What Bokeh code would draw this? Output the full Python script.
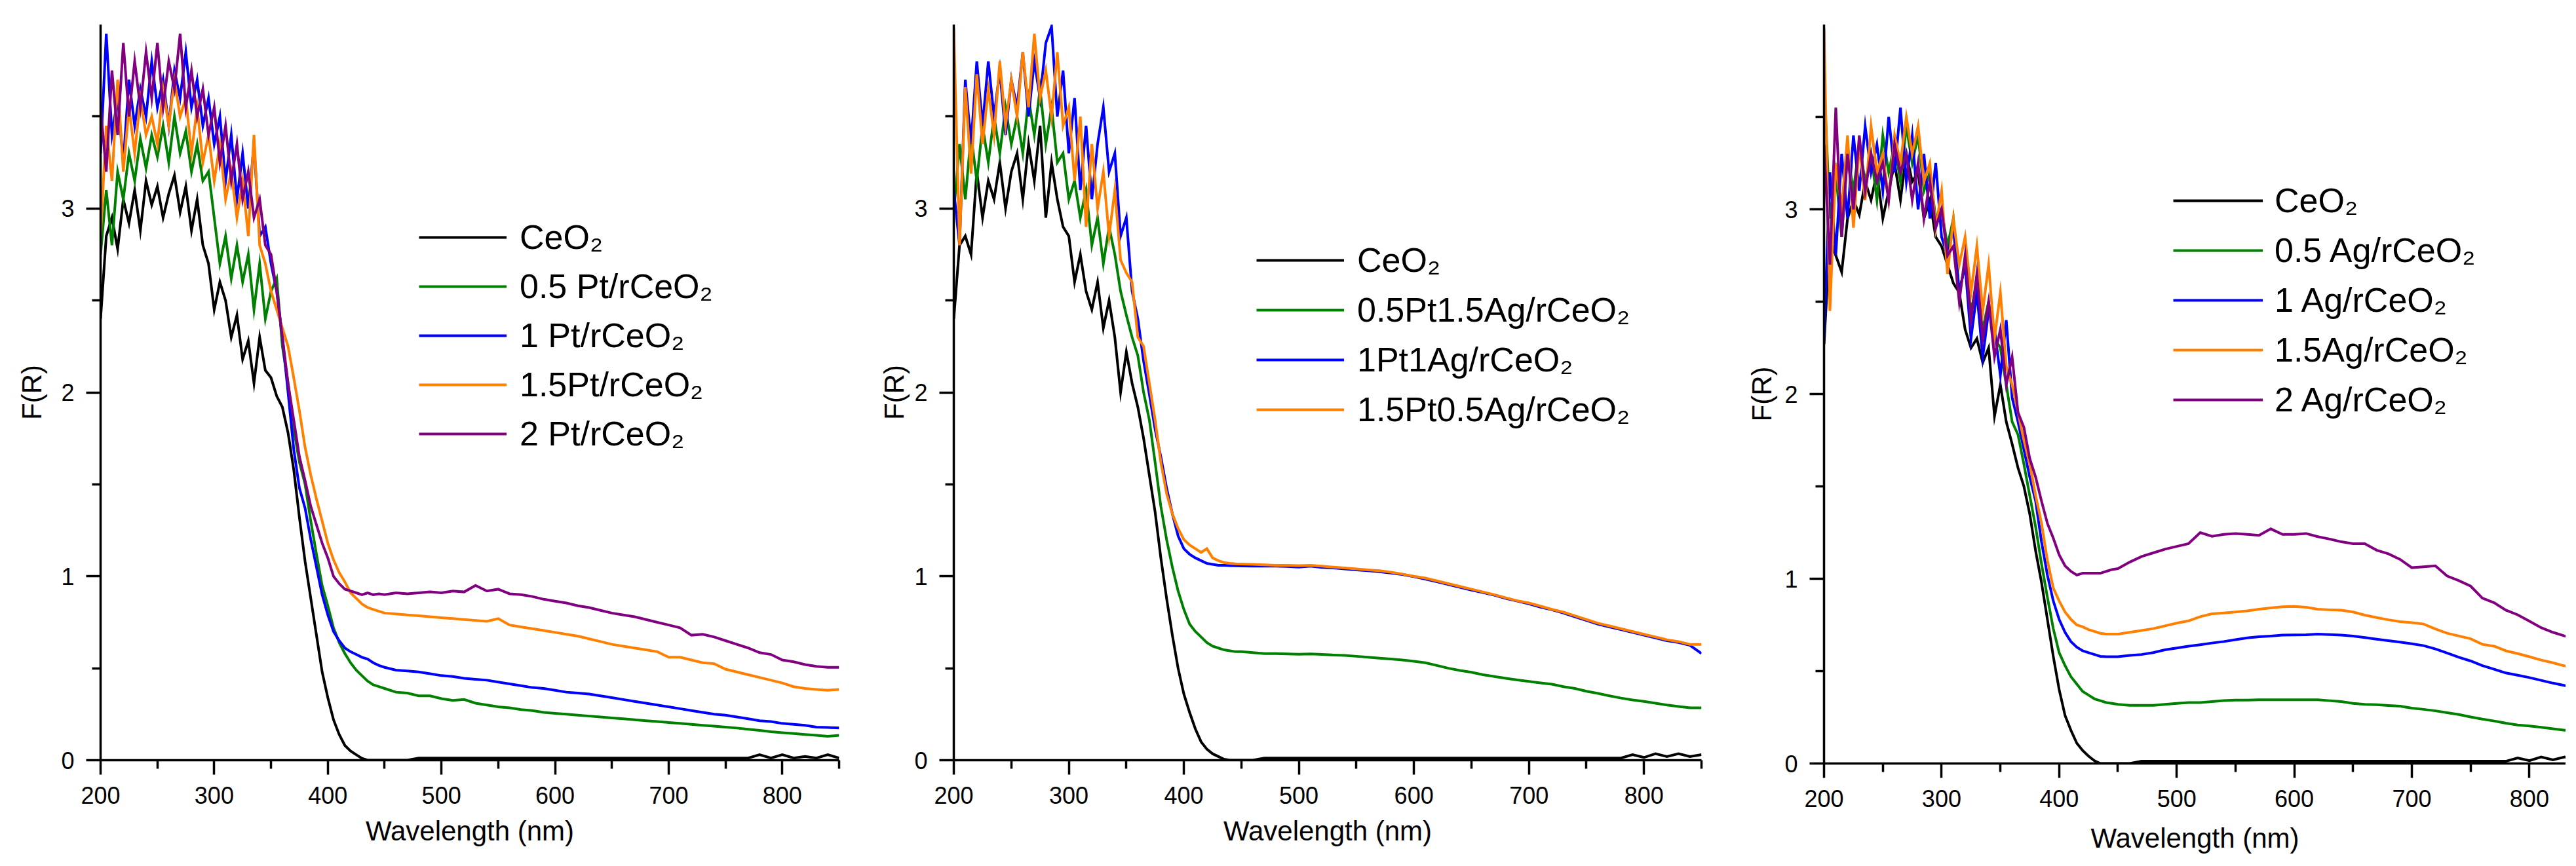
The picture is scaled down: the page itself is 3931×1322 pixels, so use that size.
from bokeh.plotting import figure
from bokeh.layouts import row
from bokeh.models import Legend, LegendItem, FixedTicker, Range1d
from bokeh.embed import file_html
from bokeh.resources import INLINE

# ---------------- data ----------------
WAVELENGTH = [200, 205, 210, 215, 220, 225, 230, 235, 240, 245,
              250, 255, 260, 265, 270, 275, 280, 285, 290, 295,
              300, 305, 310, 315, 320, 325, 330, 335, 340, 345,
              350, 355, 360, 365, 370, 375, 380, 385, 390, 395,
              400, 405, 410, 415, 420, 425, 430, 435, 440, 445, 450,
              460, 470, 480, 490, 500, 510, 520, 530, 540, 550,
              560, 570, 580, 590, 600, 610, 620, 630, 640, 650,
              660, 670, 680, 690, 700, 710, 720, 730, 740, 750,
              760, 770, 780, 790, 800, 810, 820, 830, 840, 850]

X_TICKS = [200, 300, 400, 500, 600, 700, 800]
X_MINOR = [250, 350, 450, 550, 650, 750, 850]
Y_TICKS = [0, 1, 2, 3]
Y_MINOR = [0.5, 1.5, 2.5, 3.5]

# Panel 1: Pt/rCeO2
PT_LABELS = ["CeO₂", "0.5 Pt/rCeO₂", "1 Pt/rCeO₂", "1.5Pt/rCeO₂", "2 Pt/rCeO₂"]
pt_ceo2 = [2.40, 2.85, 2.95, 2.78, 3.05, 2.92, 3.10, 2.88, 3.15, 3.02,
           3.12, 2.95, 3.08, 3.18, 2.98, 3.12, 2.88, 3.05, 2.80, 2.70,
           2.45, 2.60, 2.50, 2.30, 2.42, 2.18, 2.28, 2.05, 2.30, 2.12,
           2.08, 1.98, 1.92, 1.78, 1.58, 1.32, 1.08, 0.88, 0.68, 0.48,
           0.34, 0.22, 0.14, 0.08, 0.05, 0.03, 0.01, 0.0, 0.0, 0.0, 0.0,
           0.0, 0.0, 0.012, 0.012, 0.012, 0.012, 0.012, 0.012, 0.012, 0.012,
           0.012, 0.012, 0.012, 0.012, 0.012, 0.012, 0.012, 0.012, 0.012, 0.012,
           0.012, 0.012, 0.012, 0.012, 0.012, 0.012, 0.012, 0.012, 0.012, 0.012,
           0.012, 0.012, 0.03, 0.012, 0.03, 0.012, 0.02, 0.012, 0.03, 0.012]
pt_05 = [2.75, 3.10, 2.80, 3.20, 3.05, 3.30, 3.15, 3.38, 3.22, 3.40,
         3.28, 3.45, 3.25, 3.50, 3.30, 3.42, 3.20, 3.35, 3.15, 3.20,
         2.95, 2.70, 2.85, 2.62, 2.80, 2.60, 2.75, 2.45, 2.70, 2.40,
         2.55, 2.62, 2.25, 2.05, 1.80, 1.62, 1.50, 1.30, 1.12, 0.95,
         0.84, 0.72, 0.64, 0.58, 0.53, 0.49, 0.46, 0.43, 0.41, 0.40, 0.39,
         0.37, 0.365, 0.35, 0.35, 0.335, 0.325, 0.33, 0.31, 0.30, 0.29,
         0.285, 0.275, 0.27, 0.26, 0.255, 0.25, 0.245, 0.24, 0.235, 0.23,
         0.225, 0.22, 0.215, 0.21, 0.205, 0.20, 0.195, 0.19, 0.185, 0.18,
         0.175, 0.168, 0.162, 0.155, 0.15, 0.145, 0.14, 0.135, 0.13, 0.135]
pt_1 = [3.30, 3.95, 3.40, 3.60, 3.25, 3.70, 3.45, 3.65, 3.50, 3.80,
        3.55, 3.70, 3.45, 3.75, 3.60, 3.85, 3.55, 3.70, 3.45, 3.60,
        3.35, 3.50, 3.15, 3.40, 3.05, 3.30, 3.00, 3.35, 2.85, 2.90,
        2.70, 2.55, 2.30, 2.00, 1.69, 1.48, 1.37, 1.20, 1.05, 0.90,
        0.79, 0.70, 0.65, 0.61, 0.59, 0.575, 0.56, 0.55, 0.53, 0.515, 0.505,
        0.49, 0.485, 0.48, 0.47, 0.46, 0.455, 0.445, 0.44, 0.435, 0.425,
        0.415, 0.405, 0.395, 0.39, 0.38, 0.37, 0.365, 0.36, 0.35, 0.34,
        0.33, 0.32, 0.31, 0.30, 0.29, 0.28, 0.27, 0.26, 0.25, 0.245,
        0.235, 0.225, 0.215, 0.21, 0.20, 0.195, 0.19, 0.18, 0.178, 0.175]
pt_15 = [2.85, 3.45, 3.15, 3.70, 3.20, 3.55, 3.30, 3.60, 3.40, 3.50,
         3.35, 3.65, 3.45, 3.70, 3.50, 3.60, 3.30, 3.55, 3.25, 3.40,
         3.15, 3.35, 3.05, 3.20, 2.95, 3.15, 2.85, 3.40, 2.80, 2.70,
         2.55, 2.45, 2.35, 2.25, 2.08, 1.90, 1.70, 1.55, 1.42, 1.30,
         1.18, 1.09, 1.02, 0.97, 0.91, 0.88, 0.85, 0.83, 0.82, 0.81, 0.80,
         0.795, 0.79, 0.785, 0.78, 0.775, 0.77, 0.765, 0.76, 0.755, 0.77,
         0.735, 0.725, 0.715, 0.705, 0.695, 0.685, 0.675, 0.66, 0.645, 0.63,
         0.62, 0.61, 0.60, 0.59, 0.56, 0.56, 0.545, 0.53, 0.525, 0.495,
         0.48, 0.465, 0.45, 0.435, 0.42, 0.40, 0.39, 0.385, 0.38, 0.385]
pt_2 = [3.55, 3.20, 3.75, 3.40, 3.90, 3.50, 3.80, 3.55, 3.85, 3.60,
        3.90, 3.55, 3.80, 3.65, 3.95, 3.55, 3.75, 3.50, 3.65, 3.40,
        3.55, 3.25, 3.45, 3.15, 3.35, 3.05, 3.20, 2.95, 3.05, 2.80,
        2.75, 2.55, 2.30, 2.05, 1.85, 1.65, 1.52, 1.38, 1.28, 1.18,
        1.10, 1.00, 0.96, 0.93, 0.92, 0.91, 0.90, 0.91, 0.90, 0.905, 0.90,
        0.91, 0.905, 0.91, 0.915, 0.91, 0.92, 0.915, 0.95, 0.92, 0.93,
        0.905, 0.90, 0.89, 0.875, 0.865, 0.855, 0.84, 0.83, 0.815, 0.80,
        0.79, 0.78, 0.765, 0.75, 0.735, 0.72, 0.68, 0.685, 0.67, 0.65,
        0.63, 0.61, 0.585, 0.575, 0.545, 0.535, 0.52, 0.51, 0.505, 0.505]

# Panel 2: PtAg/rCeO2
PTAG_LABELS = ["CeO₂", "0.5Pt1.5Ag/rCeO₂", "1Pt1Ag/rCeO₂", "1.5Pt0.5Ag/rCeO₂"]
ptag_ceo2 = [2.40, 2.80, 2.85, 2.75, 3.20, 2.95, 3.15, 3.05, 3.25, 3.00,
             3.20, 3.30, 3.05, 3.35, 3.15, 3.45, 2.95, 3.25, 3.05, 2.90,
             2.85, 2.60, 2.75, 2.55, 2.45, 2.60, 2.35, 2.50, 2.30, 2.00,
             2.22, 2.05, 1.92, 1.75, 1.55, 1.35, 1.10, 0.88, 0.68, 0.50,
             0.36, 0.26, 0.17, 0.10, 0.06, 0.035, 0.02, 0.005, 0.0, 0.0, 0.0,
             0.0, 0.012, 0.012, 0.012, 0.012, 0.012, 0.012, 0.012, 0.012, 0.012,
             0.012, 0.012, 0.012, 0.012, 0.012, 0.012, 0.012, 0.012, 0.012, 0.012,
             0.012, 0.012, 0.012, 0.012, 0.012, 0.012, 0.012, 0.012, 0.012, 0.012,
             0.012, 0.012, 0.012, 0.03, 0.015, 0.035, 0.02, 0.035, 0.02, 0.03]
ptag_05_15 = [2.98, 3.35, 3.05, 3.40, 3.15, 3.45, 3.25, 3.50, 3.30, 3.55,
              3.35, 3.50, 3.30, 3.60, 3.40, 3.65, 3.35, 3.55, 3.25, 3.30,
              3.05, 3.15, 2.95, 3.10, 2.80, 2.95, 2.70, 2.90, 2.75, 2.55,
              2.42, 2.30, 2.20, 2.00, 1.85, 1.62, 1.38, 1.20, 1.05, 0.92,
              0.82, 0.74, 0.70, 0.67, 0.64, 0.62, 0.61, 0.60, 0.595, 0.59, 0.59,
              0.585, 0.58, 0.58, 0.578, 0.576, 0.578, 0.575, 0.572, 0.57, 0.565,
              0.56, 0.555, 0.55, 0.545, 0.538, 0.53, 0.515, 0.50, 0.488, 0.478,
              0.465, 0.455, 0.445, 0.436, 0.428, 0.42, 0.413, 0.40, 0.39, 0.375,
              0.363, 0.35, 0.338, 0.328, 0.32, 0.31, 0.30, 0.292, 0.285, 0.285]
ptag_1_1 = [3.10, 2.80, 3.70, 3.35, 3.80, 3.45, 3.80, 3.50, 3.75, 3.40,
            3.70, 3.55, 3.85, 3.50, 3.80, 3.60, 3.90, 3.99, 3.50, 3.75,
            3.30, 3.60, 3.10, 3.45, 3.05, 3.35, 3.55, 3.20, 3.30, 2.85,
            2.95, 2.55, 2.40, 2.17, 1.99, 1.80, 1.65, 1.48, 1.34, 1.22,
            1.15, 1.12, 1.10, 1.085, 1.07, 1.065, 1.06, 1.06, 1.058, 1.057, 1.056,
            1.055, 1.055, 1.055, 1.053, 1.05, 1.055, 1.048, 1.045, 1.04, 1.035,
            1.03, 1.025, 1.018, 1.01, 0.998, 0.985, 0.97, 0.955, 0.94, 0.925,
            0.912, 0.897, 0.88, 0.865, 0.85, 0.832, 0.818, 0.80, 0.78, 0.76,
            0.74, 0.725, 0.71, 0.695, 0.68, 0.665, 0.65, 0.64, 0.625, 0.58]
ptag_15_05 = [3.98, 2.80, 3.66, 3.19, 3.73, 3.35, 3.65, 3.40, 3.80, 3.45,
              3.70, 3.50, 3.85, 3.55, 3.95, 3.60, 3.75, 3.50, 3.85, 3.45,
              3.55, 3.15, 3.50, 2.90, 3.35, 3.00, 3.20, 2.85, 3.10, 2.72,
              2.65, 2.60, 2.30, 2.25, 2.05, 1.85, 1.62, 1.45, 1.34, 1.26,
              1.20, 1.17, 1.15, 1.13, 1.15, 1.10, 1.085, 1.075, 1.07, 1.068, 1.067,
              1.065, 1.062, 1.06, 1.06, 1.058, 1.06, 1.055, 1.05, 1.045, 1.04,
              1.035, 1.03, 1.022, 1.012, 1.00, 0.99, 0.975, 0.96, 0.945, 0.93,
              0.915, 0.90, 0.883, 0.867, 0.855, 0.838, 0.82, 0.805, 0.785, 0.765,
              0.745, 0.73, 0.715, 0.70, 0.685, 0.67, 0.655, 0.645, 0.63, 0.63]

# Panel 3: Ag/rCeO2
AG_LABELS = ["CeO₂", "0.5 Ag/rCeO₂", "1 Ag/rCeO₂", "1.5Ag/rCeO₂", "2 Ag/rCeO₂"]
ag_ceo2 = [2.27, 2.85, 2.75, 2.66, 2.95, 3.05, 2.97, 3.15, 3.05, 3.20,
           2.95, 3.10, 3.25, 3.05, 3.30, 3.15, 3.20, 2.95, 3.05, 2.85,
           2.80, 2.70, 2.60, 2.55, 2.35, 2.25, 2.30, 2.17, 2.25, 1.88,
           2.05, 1.85, 1.73, 1.60, 1.50, 1.35, 1.15, 0.98, 0.78, 0.58,
           0.40, 0.26, 0.18, 0.11, 0.07, 0.04, 0.015, 0.0, 0.0, 0.0, 0.0,
           0.0, 0.012, 0.012, 0.012, 0.012, 0.012, 0.012, 0.012, 0.012, 0.012,
           0.012, 0.012, 0.012, 0.012, 0.012, 0.012, 0.012, 0.012, 0.012, 0.012,
           0.012, 0.012, 0.012, 0.012, 0.012, 0.012, 0.012, 0.012, 0.012, 0.012,
           0.012, 0.012, 0.012, 0.03, 0.015, 0.035, 0.02, 0.035, 0.02, 0.03]
ag_05 = [3.70, 2.95, 3.20, 2.85, 3.30, 3.10, 3.35, 3.15, 3.30, 3.05,
         3.40, 3.20, 3.35, 3.15, 3.45, 3.25, 3.40, 3.10, 3.20, 2.95,
         3.00, 2.80, 2.95, 2.55, 2.70, 2.45, 2.60, 2.35, 2.50, 2.30,
         2.25, 2.05, 1.85, 1.78, 1.62, 1.45, 1.28, 1.08, 0.90, 0.73,
         0.60, 0.53, 0.47, 0.43, 0.39, 0.37, 0.35, 0.34, 0.33, 0.325, 0.32,
         0.315, 0.315, 0.315, 0.32, 0.325, 0.33, 0.33, 0.335, 0.34, 0.343,
         0.343, 0.345, 0.345, 0.345, 0.345, 0.345, 0.345, 0.34, 0.335, 0.325,
         0.32, 0.318, 0.314, 0.31, 0.30, 0.293, 0.285, 0.275, 0.265, 0.252,
         0.24, 0.23, 0.218, 0.208, 0.203, 0.196, 0.188, 0.18, 0.175, 0.17]
ag_1 = [2.30, 3.20, 2.75, 3.30, 2.95, 3.40, 3.10, 3.45, 3.20, 3.35,
        3.10, 3.50, 3.20, 3.55, 3.15, 3.40, 3.00, 3.30, 2.95, 3.25,
        2.85, 2.75, 2.90, 2.55, 2.70, 2.30, 2.55, 2.20, 2.45, 2.35,
        2.10, 2.40, 1.98, 1.85, 1.70, 1.55, 1.42, 1.20, 1.02, 0.88,
        0.78, 0.71, 0.66, 0.63, 0.61, 0.60, 0.59, 0.58, 0.578, 0.578, 0.578,
        0.585, 0.59, 0.60, 0.615, 0.625, 0.635, 0.643, 0.652, 0.66, 0.67,
        0.68, 0.686, 0.69, 0.695, 0.696, 0.697, 0.70, 0.698, 0.695, 0.69,
        0.682, 0.673, 0.665, 0.657, 0.648, 0.638, 0.62, 0.598, 0.575, 0.555,
        0.53, 0.51, 0.49, 0.478, 0.465, 0.45, 0.435, 0.422, 0.41, 0.40]
ag_15 = [3.98, 2.45, 3.25, 3.00, 3.40, 2.90, 3.35, 3.05, 3.45, 3.20,
         3.30, 3.05, 3.40, 3.25, 3.50, 3.30, 3.45, 3.15, 3.25, 2.90,
         3.10, 2.65, 2.95, 2.70, 2.85, 2.55, 2.80, 2.45, 2.70, 2.30,
         2.55, 2.15, 2.05, 1.90, 1.75, 1.62, 1.45, 1.30, 1.10, 0.95,
         0.88, 0.82, 0.78, 0.75, 0.74, 0.725, 0.715, 0.705, 0.70, 0.70, 0.70,
         0.71, 0.72, 0.73, 0.745, 0.76, 0.772, 0.795, 0.81, 0.815, 0.82,
         0.826, 0.835, 0.842, 0.848, 0.85, 0.846, 0.835, 0.832, 0.83, 0.82,
         0.803, 0.79, 0.778, 0.768, 0.762, 0.755, 0.728, 0.705, 0.69, 0.675,
         0.645, 0.635, 0.61, 0.595, 0.578, 0.56, 0.545, 0.528, 0.52, 0.51]
ag_2 = [3.35, 2.70, 3.55, 2.85, 3.30, 3.00, 3.40, 3.10, 3.30, 3.15,
        3.25, 3.05, 3.35, 3.20, 3.30, 3.05, 3.25, 2.95, 3.15, 2.90,
        3.00, 2.75, 2.80, 2.50, 2.75, 2.40, 2.65, 2.30, 2.50, 2.20,
        2.35, 2.05, 2.20, 1.90, 1.82, 1.65, 1.55, 1.42, 1.30, 1.22,
        1.13, 1.07, 1.04, 1.02, 1.03, 1.03, 1.03, 1.03, 1.04, 1.05, 1.055,
        1.09, 1.12, 1.14, 1.16, 1.175, 1.19, 1.25, 1.23, 1.24, 1.245,
        1.24, 1.235, 1.27, 1.24, 1.24, 1.245, 1.228, 1.215, 1.20, 1.19,
        1.19, 1.155, 1.135, 1.105, 1.06, 1.065, 1.07, 1.015, 0.99, 0.96,
        0.895, 0.87, 0.83, 0.805, 0.77, 0.735, 0.71, 0.69, 0.68, 0.67]

COLORS = ["#000000", "#008000", "#0000FF", "#FF8000", "#800080"]
FONT = "Liberation Sans"


def make_panel(series, labels, frame_w, frame_h, b_left, b_right, b_top, b_bottom,
               x_end, leg_loc, leg_spacing, glyph_w, leg_standoff, ylab_standoff,
               xlab_standoff):
    p = figure(frame_width=frame_w, frame_height=frame_h,
               x_range=Range1d(200, x_end), y_range=Range1d(0, 4.0),
               output_backend="svg", toolbar_location=None,
               min_border_left=b_left, min_border_right=b_right,
               min_border_top=b_top, min_border_bottom=b_bottom,
               background_fill_color="white", border_fill_color="white")
    p.outline_line_color = None
    p.grid.visible = False

    renderers = []
    for ys, col in zip(series, COLORS):
        r = p.line(WAVELENGTH, ys, line_color=col, line_width=4, line_join="miter")
        renderers.append(r)

    p.xaxis.ticker = FixedTicker(ticks=X_TICKS, minor_ticks=X_MINOR)
    p.yaxis.ticker = FixedTicker(ticks=Y_TICKS, minor_ticks=Y_MINOR)
    p.xaxis.axis_label = "Wavelength (nm)"
    p.yaxis.axis_label = "F(R)"
    for ax in (p.xaxis[0], p.yaxis[0]):
        ax.axis_line_width = 3.5
        ax.axis_line_color = "black"
        ax.major_tick_line_width = 3.5
        ax.minor_tick_line_width = 3.5
        ax.major_tick_line_color = "black"
        ax.minor_tick_line_color = "black"
        ax.major_tick_in = 0
        ax.major_tick_out = 22
        ax.minor_tick_in = 0
        ax.minor_tick_out = 13
        ax.major_label_text_font = FONT
        ax.major_label_text_font_size = "36px"
        ax.major_label_text_color = "black"
        ax.major_label_standoff = 18
        ax.axis_label_text_font = FONT
        ax.axis_label_text_font_size = "42px"
        ax.axis_label_text_font_style = "normal"
        ax.axis_label_text_color = "black"
    p.xaxis.axis_label_standoff = xlab_standoff
    p.yaxis.axis_label_standoff = ylab_standoff

    items = [LegendItem(label=lab, renderers=[r]) for lab, r in zip(labels, renderers)]
    legend = Legend(items=items, location=leg_loc,
                    glyph_width=glyph_w, glyph_height=62, label_height=62,
                    label_standoff=leg_standoff, spacing=leg_spacing,
                    padding=0, margin=0,
                    border_line_color=None, background_fill_alpha=0,
                    label_text_font=FONT, label_text_font_size="52px",
                    label_text_color="black")
    p.add_layout(legend)
    return p


p1 = make_panel([pt_ceo2, pt_05, pt_1, pt_15, pt_2], PT_LABELS,
                frame_w=1127, frame_h=1123, b_left=153, b_right=12, b_top=37, b_bottom=146,
                x_end=850, leg_loc=(486, 467), leg_spacing=13, glyph_w=134,
                leg_standoff=20, ylab_standoff=18, xlab_standoff=15)
p2 = make_panel([ptag_ceo2, ptag_05_15, ptag_1_1, ptag_15_05], PTAG_LABELS,
                frame_w=1141, frame_h=1123, b_left=163, b_right=20, b_top=37, b_bottom=146,
                x_end=850, leg_loc=(462, 504), leg_spacing=14, glyph_w=134,
                leg_standoff=20, ylab_standoff=4, xlab_standoff=15)
p3 = make_panel([ag_ceo2, ag_05, ag_1, ag_15, ag_2], AG_LABELS,
                frame_w=1132, frame_h=1128, b_left=167, b_right=0, b_top=26, b_bottom=152,
                x_end=831, leg_loc=(533, 524), leg_spacing=14, glyph_w=137,
                leg_standoff=18, ylab_standoff=8, xlab_standoff=21)

layout = row(p1, p2, p3)
open("out.html", "w").write(file_html(layout, INLINE))
